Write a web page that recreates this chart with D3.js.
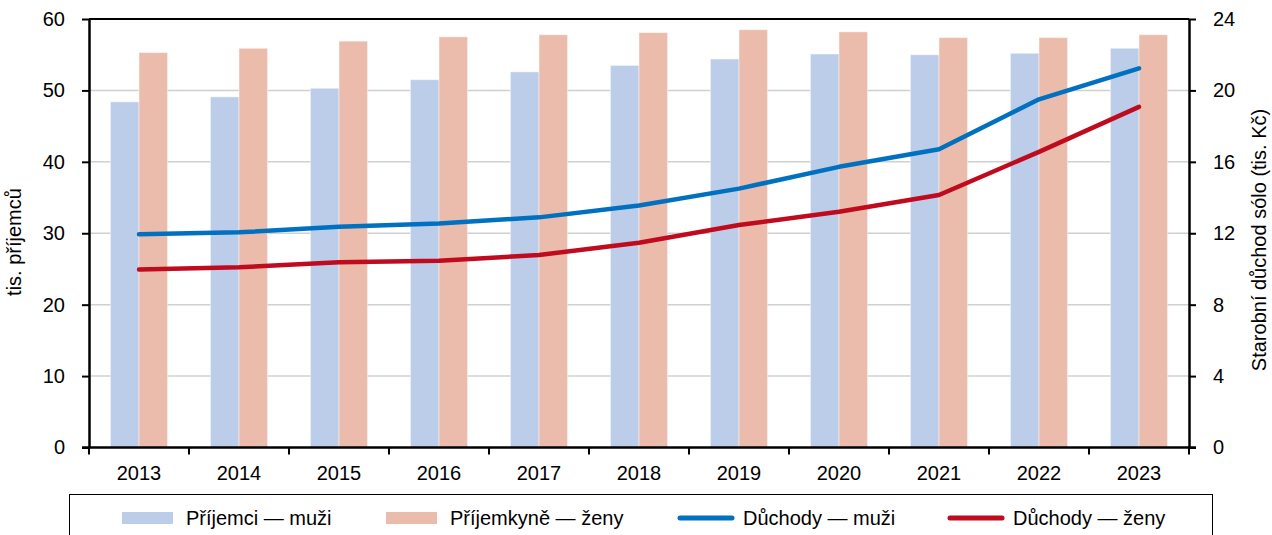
<!DOCTYPE html>
<meta charset="utf-8">
<title>Příjemci a důchody</title>
<style>
  body { margin: 0; background: #fff; }
  text { font-family: "Liberation Sans", Arial, sans-serif; fill: #000; }
</style>
<body>
<script src="https://cdnjs.cloudflare.com/ajax/libs/d3/7.8.5/d3.min.js"></script>
<script>

// data
const years = ["2013","2014","2015","2016","2017","2018","2019","2020","2021","2022","2023"];
const prijemciMuzi = [48.4, 49.1, 50.3, 51.5, 52.6, 53.5, 54.4, 55.1, 55.0, 55.2, 55.9];
const prijemkyneZeny = [55.3, 55.9, 56.9, 57.5, 57.8, 58.1, 58.5, 58.2, 57.4, 57.4, 57.8];
const duchodyMuzi = [11.94, 12.05, 12.36, 12.55, 12.89, 13.55, 14.5, 15.72, 16.7, 19.5, 21.24];
const duchodyZeny = [9.97, 10.09, 10.37, 10.46, 10.78, 11.47, 12.46, 13.2, 14.14, 16.56, 19.08];
const leftTicks = [0, 10, 20, 30, 40, 50, 60];
const rightTicks = [0, 4, 8, 12, 16, 20, 24];
const legendLabels = ["Příjemci — muži", "Příjemkyně — ženy", "Důchody — muži", "Důchody — ženy"];

var width = 1272,
  height = 535,
  margin = { top: 19, right: 83, bottom: 87.5, left: 89 },
  fontSize = "20px";

const colBlueBar = "#bccdea",
  colPinkBar = "#ebbcab",
  colBlueLine = "#0070c0",
  colRedLine = "#c00a1e";

var svg = d3.select("body").append("svg")
    .attr("width", width)
    .attr("height", height);

var x0 = d3.scaleBand().domain(years).range([margin.left, width - margin.right]).padding(0);
var yL = d3.scaleLinear().domain([0, 60]).range([height - margin.bottom, margin.top]);
var yR = d3.scaleLinear().domain([0, 24]).range([height - margin.bottom, margin.top]);
var barW = x0.bandwidth() / 3.5;
var cx = d => x0(d) + x0.bandwidth() / 2;

// gridlines
svg.append("g").selectAll("line")
    .data(leftTicks.filter(t => t > 0 && t < 60))
  .enter().append("line")
    .attr("x1", margin.left).attr("x2", width - margin.right)
    .attr("y1", d => yL(d)).attr("y2", d => yL(d))
    .style("stroke", "#d0d0d0").style("stroke-width", 1.5);

// bars
var bars = svg.append("g")
    .style("stroke", "rgba(255,255,255,0.45)")
    .style("stroke-width", 1);
bars.selectAll("rect.m")
    .data(years)
  .enter().append("rect")
    .attr("class", "m")
    .attr("x", d => cx(d) - barW)
    .attr("width", barW)
    .attr("y", (d, i) => yL(prijemciMuzi[i]))
    .attr("height", (d, i) => yL(0) - yL(prijemciMuzi[i]))
    .style("fill", colBlueBar);
bars.selectAll("rect.z")
    .data(years)
  .enter().append("rect")
    .attr("class", "z")
    .attr("x", d => cx(d))
    .attr("width", barW)
    .attr("y", (d, i) => yL(prijemkyneZeny[i]))
    .attr("height", (d, i) => yL(0) - yL(prijemkyneZeny[i]))
    .style("fill", colPinkBar);

// lines
var line = d3.line()
    .x((d, i) => cx(years[i]))
    .y(d => yR(d));

[[duchodyMuzi, colBlueLine], [duchodyZeny, colRedLine]].forEach(s => {
  svg.append("path")
    .attr("d", line(s[0]))
    .style("fill", "none")
    .style("stroke", s[1])
    .style("stroke-width", 4.5)
    .style("stroke-linecap", "round")
    .style("stroke-linejoin", "round");
});

// frame top
svg.append("line")
    .attr("x1", margin.left).attr("x2", width - margin.right)
    .attr("y1", margin.top).attr("y2", margin.top)
    .style("stroke", "#000").style("stroke-width", 2);

// axes
var gx = svg.append("g")
    .attr("transform", "translate(0," + yL(0) + ")")
    .call(d3.axisBottom(x0).tickSize(0).tickPadding(18));
gx.select(".domain").remove();
gx.selectAll("text").style("font-size", fontSize);
gx.selectAll("line.sep")
    .data(years.concat(["end"]))
  .enter().append("line")
    .attr("class", "sep")
    .attr("x1", (d, i) => margin.left + i * x0.bandwidth())
    .attr("x2", (d, i) => margin.left + i * x0.bandwidth())
    .attr("y1", 0).attr("y2", 7)
    .style("stroke", "#000").style("stroke-width", 2);
gx.append("line")
    .attr("x1", margin.left - 7).attr("x2", width - margin.right + 7)
    .style("stroke", "#000").style("stroke-width", 2.5);

var gl = svg.append("g")
    .attr("transform", "translate(" + margin.left + ",0)")
    .call(d3.axisLeft(yL).tickValues(leftTicks).tickSize(7).tickPadding(17).tickSizeOuter(0));
gl.selectAll("text").style("font-size", fontSize);
gl.selectAll(".tick line").style("stroke-width", 2);
gl.select(".domain").style("stroke-width", 2.5);

var gr = svg.append("g")
    .attr("transform", "translate(" + (width - margin.right) + ",0)")
    .call(d3.axisRight(yR).tickValues(rightTicks).tickSize(7).tickPadding(17).tickSizeOuter(0));
gr.selectAll("text").style("font-size", fontSize);
gr.selectAll(".tick line").style("stroke-width", 2);
gr.select(".domain").style("stroke-width", 2.5);

// axis titles
svg.append("text")
    .attr("transform", "translate(21,242) rotate(-90)")
    .attr("text-anchor", "middle")
    .style("font-size", fontSize)
    .text("tis. příjemců");
svg.append("text")
    .attr("transform", "translate(1266,240) rotate(-90)")
    .attr("text-anchor", "middle")
    .style("font-size", fontSize)
    .text("Starobní důchod sólo (tis. Kč)");

// legend
var legend = svg.append("g");
legend.append("rect")
    .attr("x", 69.5).attr("y", 494.5)
    .attr("width", 1143).attr("height", 60)
    .style("fill", "#fff").style("stroke", "#000").style("stroke-width", 1);

const legendX = [122, 386, 678, 948];
const legendY = 518;
legendLabels.forEach((lab, i) => {
  var g = legend.append("g").attr("transform", "translate(" + legendX[i] + "," + legendY + ")");
  if (i < 2) {
    g.append("rect")
      .attr("x", 0).attr("y", -6).attr("width", 51).attr("height", 12)
      .style("fill", i == 0 ? colBlueBar : colPinkBar);
  } else {
    g.append("line")
      .attr("x1", 2).attr("x2", 54)
      .style("stroke", i == 2 ? colBlueLine : colRedLine)
      .style("stroke-width", 5)
      .style("stroke-linecap", "round");
  }
  g.append("text")
    .attr("x", i < 2 ? 64 : 65)
    .attr("dy", "0.35em")
    .style("font-size", fontSize)
    .text(lab);
});

</script>
</body>
